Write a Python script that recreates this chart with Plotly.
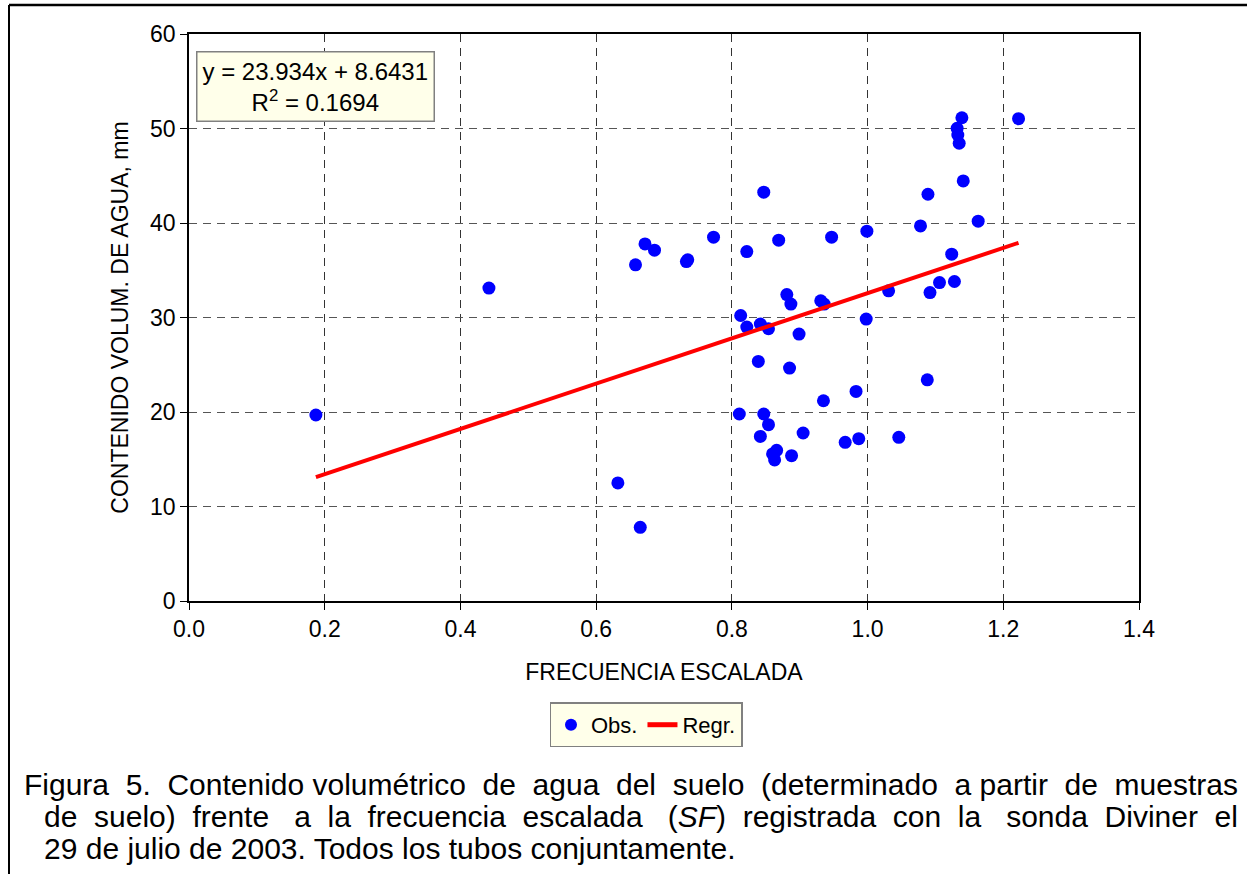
import plotly.graph_objects as go

# Scaled frequency (SF) and volumetric soil water content (mm), all tubes
sf = [0.187, 0.442, 0.632, 0.665, 0.658, 0.672, 0.686, 0.733, 0.735, 0.773,
      0.822, 0.847, 0.869, 0.947, 0.999, 0.881, 0.887, 0.931, 0.936, 0.813,
      0.822, 0.842, 0.854, 0.899, 0.998, 1.031, 0.839, 0.885, 0.935, 0.983,
      0.811, 0.847, 0.854, 0.842, 0.905, 0.967, 0.987, 1.046, 0.866, 0.860,
      0.863, 0.888, 1.088, 1.139, 1.2225, 1.132, 1.133, 1.135, 1.141, 1.089,
      1.078, 1.163, 1.124, 1.092, 1.106, 1.128]
agua = [19.68, 33.11, 12.49, 7.80, 35.57, 37.79, 37.12, 35.92, 36.10, 38.50,
        36.98, 43.26, 38.18, 38.50, 39.13, 32.43, 31.42, 31.77, 31.42, 30.21,
        28.99, 29.30, 28.81, 28.25, 29.83, 32.82, 25.35, 24.65, 21.19, 22.18,
        19.79, 19.79, 18.66, 17.42, 17.78, 16.79, 17.18, 17.32, 15.94, 15.56,
        14.93, 15.38, 23.41, 51.14, 51.04, 50.02, 49.31, 48.44, 44.45, 43.04,
        39.69, 40.19, 36.70, 32.64, 33.70, 33.81]

# Linear fit reported on the chart
pendiente = 23.934
intercepto = 8.6431
r2 = 0.1694

x_ticks = [0.0, 0.2, 0.4, 0.6, 0.8, 1.0, 1.2, 1.4]
y_ticks = [0, 10, 20, 30, 40, 50, 60]

caption = [
    "Figura 5. Contenido volumétrico de agua del suelo (determinado a partir de muestras",
    "de suelo) frente a la frecuencia escalada (<i>SF</i>) registrada con la sonda Diviner el",
    "29 de julio de 2003. Todos los tubos conjuntamente.",
]
# extra word spacing (in spaces) used to justify the first two caption lines
caption_extra = [10, 16, 0]

W, H = 1247, 874
L, R, T, B = 189, 1139, 34, 601.5   # plot area in pixels


def px_x(p):
    return (p - L) / (R - L)


def px_y(p):
    return (B - p) / (B - T)


def justify(line, extra):
    """Spread `extra` non-breaking spaces evenly over the word gaps."""
    words = line.split(" ")
    gaps = len(words) - 1
    if extra <= 0 or gaps <= 0:
        return line
    out = words[0]
    for i, w in enumerate(words[1:]):
        n = round((i + 1) * extra / gaps) - round(i * extra / gaps)
        out += " " + "\u00a0" * n + w
    return out


FONT = "Liberation Sans, Arial, sans-serif"
FS = 23
CREAM = "#FFFFEA"

x_fit = [min(sf), max(sf)]
y_fit = [pendiente * v + intercepto for v in x_fit]

fig = go.Figure()
fig.add_trace(go.Scatter(
    x=sf, y=agua, mode="markers", name="Obs.",
    marker=dict(color="#0000FF", size=13, line=dict(width=0)),
))
fig.add_trace(go.Scatter(
    x=x_fit, y=y_fit, mode="lines", name="Regr.",
    line=dict(color="#FF0000", width=4),
))

axis_common = dict(
    showline=True, linecolor="black", linewidth=1.5, mirror=True,
    ticks="outside", ticklen=7, tickcolor="black", tickwidth=1,
    showgrid=True, gridwidth=1, griddash="8px,6px", zeroline=False,
    tickfont=dict(family=FONT, size=FS, color="black"),
)

fig.update_xaxes(
    range=[0, 1.4], tickvals=x_ticks, ticktext=[f"{v:.1f}" for v in x_ticks],
    gridcolor="#333333",
    title=dict(text="FRECUENCIA ESCALADA", font=dict(family=FONT, size=FS, color="black"), standoff=23),
    **axis_common,
)
fig.update_yaxes(
    range=[0, 60], tickvals=y_ticks, ticktext=[str(v) for v in y_ticks],
    gridcolor="#555555",
    title=dict(text="CONTENIDO VOLUM. DE AGUA, mm", font=dict(family=FONT, size=FS, color="black"), standoff=15),
    **axis_common,
)

annotations = [
    dict(
        xref="paper", yref="paper", x=px_x(196), y=px_y(51.5), xanchor="left", yanchor="top",
        text=f"y = {pendiente}x + {intercepto}<br>R<sup>2</sup> = {r2}",
        showarrow=False, align="center", bgcolor=CREAM, bordercolor="#808080", borderwidth=1.5,
        borderpad=5, font=dict(family=FONT, size=24, color="black"),
    )
]

cap_left = [22, 42, 42]
cap_y = [785, 817, 849]
for txt, extra, xl, yc in zip(caption, caption_extra, cap_left, cap_y):
    annotations.append(dict(
        xref="paper", yref="paper", x=px_x(xl), y=px_y(yc), xanchor="left", yanchor="middle",
        text=justify(txt, extra), showarrow=False, align="left",
        font=dict(family=FONT, size=30, color="black"),
    ))

shapes = [
    dict(type="line", xref="paper", yref="paper", x0=px_x(9), x1=px_x(1260), y0=px_y(5), y1=px_y(5),
         line=dict(color="black", width=2.5)),
    dict(type="line", xref="paper", yref="paper", x0=px_x(9), x1=px_x(9), y0=px_y(5), y1=px_y(880),
         line=dict(color="black", width=2)),
]

fig.update_layout(
    width=W, height=H,
    margin=dict(l=L, r=W - R, t=T, b=H - B),
    paper_bgcolor="white", plot_bgcolor="white",
    font=dict(family=FONT, size=FS, color="black"),
    showlegend=True,
    legend=dict(
        orientation="h", xref="paper", yref="paper",
        x=px_x(646), y=px_y(703), xanchor="center", yanchor="top",
        bgcolor=CREAM, bordercolor="#808080", borderwidth=1.5,
        font=dict(family=FONT, size=FS - 1, color="black"),
        itemwidth=30, tracegroupgap=0, itemsizing="constant",
    ),
    annotations=annotations,
    shapes=shapes,
)

fig.write_html("out.html")
